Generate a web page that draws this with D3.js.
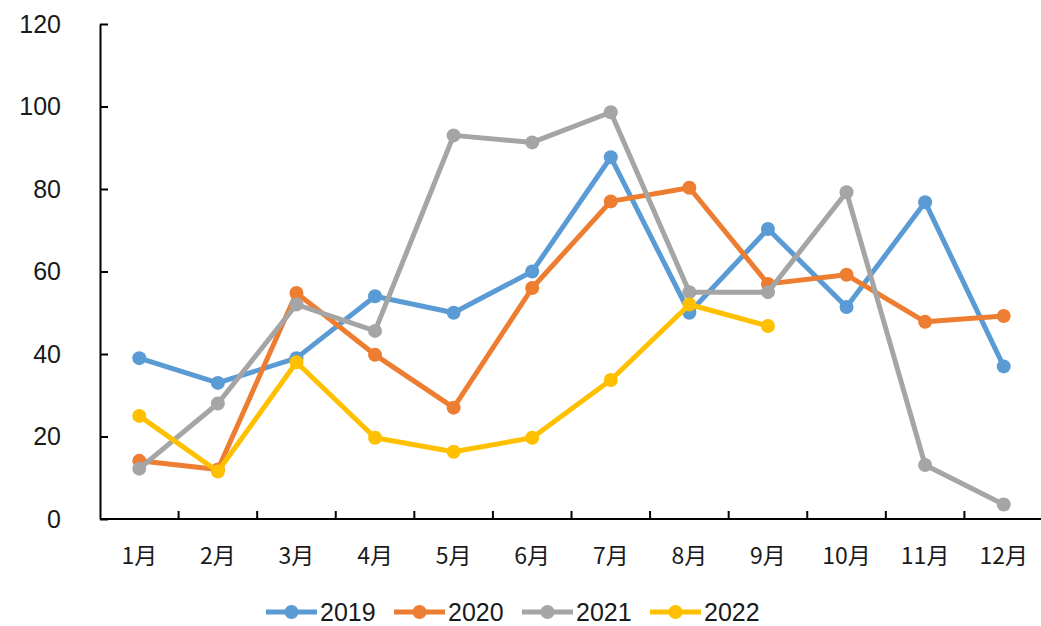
<!DOCTYPE html>
<html>
<head>
<meta charset="utf-8">
<script src="https://cdn.jsdelivr.net/npm/d3@7"></script>
<style>
  body { margin: 0; background: #fff; }
  svg text { font-family: "Liberation Sans", "Noto Sans CJK SC", sans-serif; fill: #1a1a1a; }
</style>
</head>
<body>
<div id="chart"></div>
<script>
const months = ["1月", "2月", "3月", "4月", "5月", "6月", "7月", "8月", "9月", "10月", "11月", "12月"];
const yTicks = [0, 20, 40, 60, 80, 100, 120];
const years = ["2019", "2020", "2021", "2022"];
const colors = ["#5B9BD5", "#ED7D31", "#A5A5A5", "#FFC000"];
const v2019 = [39, 33, 39, 54, 50, 60, 87.7, 50, 70.3, 51.4, 76.8, 37];
const v2020 = [14.1, 12, 54.8, 39.8, 27, 56, 77, 80.3, 57, 59.2, 47.8, 49.2];
const v2021 = [12.2, 28, 52, 45.6, 93, 91.3, 98.6, 55, 55, 79.2, 13.1, 3.5];
const v2022 = [25, 11.5, 38, 19.7, 16.3, 19.7, 33.7, 52, 46.8];
const allSeries = [v2019, v2020, v2021, v2022];

const W = 1041, H = 626;
const margin = {top: 24, right: -2, bottom: 107, left: 100};
const w = W - margin.left - margin.right;
const h = H - margin.top - margin.bottom;

const svg = d3.select("#chart").append("svg")
  .attr("width", W).attr("height", H);
const g = svg.append("g")
  .attr("transform", "translate(" + margin.left + "," + margin.top + ")");

const x = d3.scaleBand().domain(months).range([0, w]);
const y = d3.scaleLinear().domain([0, 120]).range([h, 0]);

// y axis, ticks pointing inward
const yAxis = g.append("g")
  .call(d3.axisRight(y).tickValues(yTicks).tickSize(8).tickSizeOuter(0));
yAxis.select(".domain").attr("stroke", "#000").attr("stroke-width", 2);
yAxis.selectAll(".tick line").attr("stroke", "#000").attr("stroke-width", 2);
yAxis.selectAll(".tick text")
  .attr("x", -39).attr("text-anchor", "end")
  .style("font-size", "25px");

// x axis, ticks at category boundaries pointing upward
const xAxis = g.append("g").attr("transform", "translate(0," + h + ")");
xAxis.append("line").attr("x1", 0).attr("x2", w)
  .attr("stroke", "#000").attr("stroke-width", 2);
xAxis.selectAll(".bt").data(months.slice(1)).join("line")
  .attr("x1", d => x(d)).attr("x2", d => x(d))
  .attr("y1", 0).attr("y2", -8)
  .attr("stroke", "#000").attr("stroke-width", 2);
xAxis.selectAll(".lbl").data(months).join("text")
  .attr("x", d => x(d) + x.bandwidth() / 2)
  .attr("y", 45)
  .attr("text-anchor", "middle")
  .style("font-size", "23px")
  .style("font-family", "'Noto Sans CJK SC', sans-serif")
  .text(d => d);

const line = d3.line()
  .x((d, i) => x(months[i]) + x.bandwidth() / 2)
  .y(d => y(d));

allSeries.forEach((vals, k) => {
  g.append("path").datum(vals)
    .attr("fill", "none")
    .attr("stroke", colors[k])
    .attr("stroke-width", 5)
    .attr("stroke-linejoin", "round")
    .attr("d", line);
  g.selectAll(".pt" + k).data(vals).join("circle")
    .attr("cx", (d, i) => x(months[i]) + x.bandwidth() / 2)
    .attr("cy", d => y(d))
    .attr("r", 7)
    .attr("fill", colors[k]);
});

// legend
const legX = [266, 394, 522, 650];
const leg = svg.append("g").attr("transform", "translate(0,612)");
years.forEach((yr, k) => {
  const it = leg.append("g").attr("transform", "translate(" + legX[k] + ",0)");
  it.append("line").attr("x1", 0).attr("x2", 51)
    .attr("stroke", colors[k]).attr("stroke-width", 5);
  it.append("circle").attr("cx", 25.5).attr("cy", 0).attr("r", 7).attr("fill", colors[k]);
  it.append("text").attr("x", 54).attr("y", 9)
    .style("font-size", "25px").text(yr);
});
</script>
</body>
</html>
